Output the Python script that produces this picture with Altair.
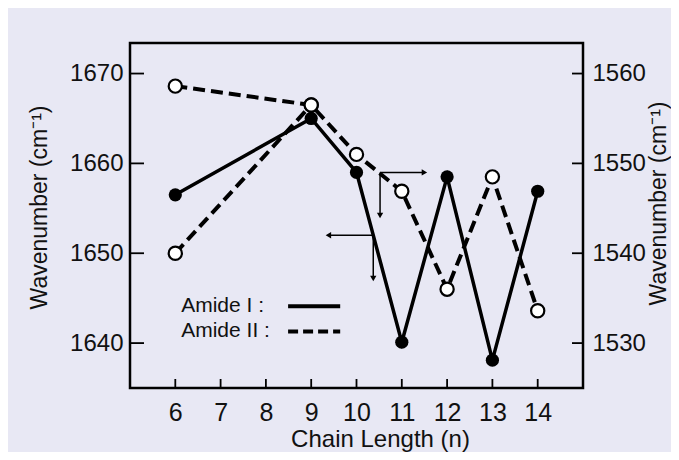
import altair as alt
import pandas as pd

# ---- data ----
chain = [6, 9, 10, 11, 12, 13, 14]
amide1 = [1656.5, 1665.0, 1659.0, 1640.1, 1658.5, 1638.1, 1656.9]   # left axis
amide2 = [1558.6, 1556.5, 1551.0, 1546.9, 1536.0, 1548.5, 1533.6]   # right axis
amide2_b_chain = [6, 9]
amide2_b = [1540.0, 1556.5]

x_ticks = [6, 7, 8, 9, 10, 11, 12, 13, 14]
left_ticks = [1640, 1650, 1660, 1670]
right_ticks = [1530, 1540, 1550, 1560]
legend_labels = ["Amide I  :", "Amide II :"]
series_names = ["Amide I", "Amide II"]

# annotation geometry (data coordinates, left scale)
legend_text_x = 6.13
legend_line_x = [8.49, 9.64]
legend_y = [1644.1, 1641.3]
arrow_start_x = [10.52, 10.37]
arrow_end_x = [11.5, 9.38]
arrow_y = [1659.0, 1652.0]
arrow_drop_y = [1654.2, 1647.2]

F = "Liberation Sans"
XD = [5, 15]
YL = [1635, 1673.4]
YR = [YL[0] - 110, YL[1] - 110]
W, H = 453, 345

x_axis = alt.Axis(values=x_ticks, format="d", title="Chain Length (n)", ticks=False, tickSize=0,
                  domain=False, grid=False, labelFont=F, labelFontSize=25, labelColor="#111111",
                  labelPadding=12, labelOverlap=False, labelFlush=False,
                  titleFont=F, titleFontSize=24, titleFontWeight="normal", titleColor="#111111",
                  titleX=250, titleY=58, titleAlign="center", titleBaseline="alphabetic")
yl_axis = alt.Axis(values=left_ticks, format="d", title="Wavenumber (cm⁻¹)", orient="left",
                   ticks=False, tickSize=0, domain=False, grid=False, labelFont=F, labelFontSize=24,
                   labelColor="#111111", labelPadding=7, labelOverlap=False, labelFlush=False,
                   titleFont=F, titleFontSize=23, titleFontWeight="normal", titleColor="#111111",
                   titleAngle=270, titleX=-91, titleY=164, titleAlign="center", titleBaseline="middle")
yr_axis = alt.Axis(values=right_ticks, format="d", title="Wavenumber (cm⁻¹)", orient="right",
                   ticks=False, tickSize=0, domain=False, grid=False, labelFont=F, labelFontSize=24,
                   labelColor="#111111", labelPadding=9, labelOverlap=False, labelFlush=False,
                   titleFont=F, titleFontSize=23, titleFontWeight="normal", titleColor="#111111",
                   titleAngle=270, titleX=75, titleY=160, titleAlign="center", titleBaseline="middle")

xs = alt.Scale(domain=XD, nice=False, zero=False)
yls = alt.Scale(domain=YL, nice=False, zero=False)
yrs = alt.Scale(domain=YR, nice=False, zero=False)


def X(f="n"):
    return alt.X(f"{f}:Q", scale=xs, axis=x_axis)


def YLft(f="v"):
    return alt.Y(f"{f}:Q", scale=yls, axis=yl_axis)


def YRgt(f="v"):
    return alt.Y(f"{f}:Q", scale=yrs, axis=yr_axis)


df1 = pd.DataFrame({"n": chain, "v": amide1, "series": series_names[0]})
df2 = pd.concat([
    pd.DataFrame({"n": chain, "v": amide2, "branch": "a"}),
    pd.DataFrame({"n": amide2_b_chain, "v": amide2_b, "branch": "b"}),
], ignore_index=True)

xt = pd.DataFrame({"n": x_ticks})
yt = pd.DataFrame({"v": left_ticks})

bottom_ticks = alt.Chart(xt).mark_rule(color="black", strokeWidth=1.8).encode(
    x=X(), y=alt.value(H), y2=alt.value(H - 9))
left_tk = alt.Chart(yt).mark_rule(color="black", strokeWidth=1.8).encode(
    y=YLft(), x=alt.value(0), x2=alt.value(14))
right_tk = alt.Chart(yt).mark_rule(color="black", strokeWidth=1.8).encode(
    y=YLft(), x=alt.value(W - 11), x2=alt.value(W))

leg_txt = alt.Chart(pd.DataFrame({"n": [legend_text_x] * 2, "v": legend_y, "t": legend_labels})).mark_text(
    align="left", baseline="middle", font=F, fontSize=21, color="#111111").encode(
    x=X(), y=YLft(), text="t:N")
leg_solid = alt.Chart(pd.DataFrame({"n": [legend_line_x[0]], "n2": [legend_line_x[1]], "v": [legend_y[0]]})).mark_rule(
    color="black", strokeWidth=4).encode(x=X(), x2="n2:Q", y=YLft())
leg_dash = alt.Chart(pd.DataFrame({"n": [legend_line_x[0]], "n2": [legend_line_x[1]], "v": [legend_y[1]]})).mark_rule(
    color="black", strokeWidth=4, strokeDash=[10, 5]).encode(x=X(), x2="n2:Q", y=YLft())

arr_h = alt.Chart(pd.DataFrame({"n": arrow_start_x, "n2": arrow_end_x, "v": arrow_y})).mark_rule(
    color="black", strokeWidth=1.5).encode(x=X(), x2="n2:Q", y=YLft())
arr_v = alt.Chart(pd.DataFrame({"n": arrow_start_x, "v": arrow_y, "v2": arrow_drop_y})).mark_rule(
    color="black", strokeWidth=1.5).encode(x=X(), y=YLft(), y2="v2:Q")
heads = pd.DataFrame({
    "n": arrow_end_x + arrow_start_x,
    "v": arrow_y + arrow_drop_y,
    "d": ["r", "l", "d", "d"],
})
arr_heads = alt.Chart(heads).mark_point(filled=True, color="black", size=40, opacity=1).encode(
    x=X(), y=YLft(),
    shape=alt.Shape("d:N", scale=alt.Scale(domain=["r", "l", "d"],
                                           range=["triangle-right", "triangle-left", "triangle-down"]),
                    legend=None))

line1 = alt.Chart(df1).mark_line(color="black", strokeWidth=3.5).encode(x=X(), y=YLft())
pts1 = alt.Chart(df1).mark_circle(color="black", size=175, opacity=1).encode(x=X(), y=YLft())

left_group = alt.layer(bottom_ticks, left_tk, right_tk, leg_txt, leg_solid, leg_dash,
                       arr_h, arr_v, arr_heads, line1, pts1)

line2 = alt.Chart(df2).mark_line(color="black", strokeWidth=4, strokeDash=[12, 6]).encode(
    x=X(), y=YRgt(), detail="branch:N")
pts2 = alt.Chart(df2).mark_circle(fill="white", stroke="black", strokeWidth=2.2, size=175, opacity=1).encode(
    x=X(), y=YRgt())
right_group = alt.layer(line2, pts2)

chart = alt.layer(left_group, right_group).resolve_scale(y="independent").properties(
    width=W, height=H,
    autosize=alt.AutoSizeParams(type="none"),
    padding={"left": 122, "top": 35, "right": 88, "bottom": 64},
    background="#e8e8f4",
).configure_view(stroke="black", strokeWidth=2.5)

chart.save("out.html", embed_options={"renderer": "svg", "actions": False})
